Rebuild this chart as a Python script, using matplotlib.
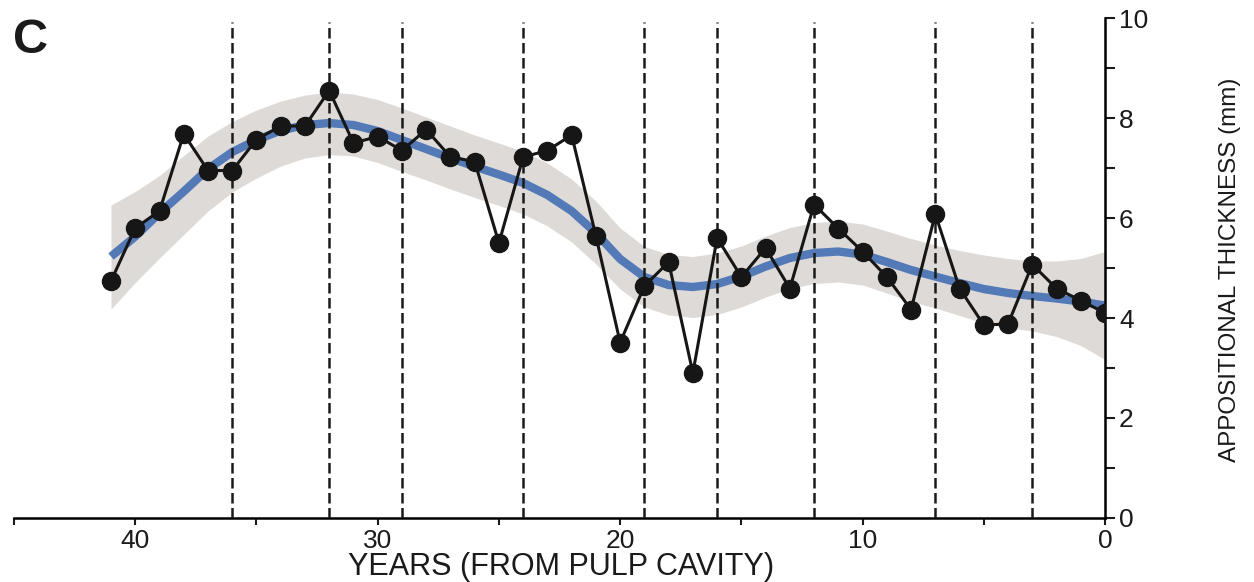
import matplotlib
matplotlib.use("Agg")
import matplotlib.pyplot as plt
from matplotlib.ticker import MultipleLocator

plt.rcParams['font.family'] = ['Liberation Sans', 'DejaVu Sans']

# years counted back from the pulp cavity
years = list(range(41, -1, -1))

# measured appositional thickness (mm), year 41 -> 0
thickness = [4.74, 5.8, 6.14, 7.68, 6.95, 6.95, 7.57, 7.84, 7.84, 8.55,
             7.5, 7.63, 7.35, 7.77, 7.22, 7.13, 5.5, 7.22, 7.35, 7.66,
             5.64, 3.51, 4.64, 5.12, 2.9, 5.6, 4.82, 5.4, 4.59, 6.27,
             5.79, 5.33, 4.82, 4.17, 6.08, 4.59, 3.86, 3.88, 5.07, 4.59,
             4.35, 4.1]

# smoothed trend and its confidence band
trend = [5.23, 5.63, 6.1, 6.53, 6.98, 7.32, 7.56, 7.75, 7.86, 7.9,
         7.86, 7.74, 7.56, 7.38, 7.2, 7.03, 6.87, 6.7, 6.46, 6.14,
         5.7, 5.18, 4.82, 4.66, 4.62, 4.68, 4.83, 5.03, 5.2, 5.3,
         5.33, 5.27, 5.12, 4.96, 4.83, 4.7, 4.58, 4.5, 4.44, 4.39,
         4.33, 4.25]
band_hi = [6.26, 6.53, 6.85, 7.25, 7.64, 7.93, 8.16, 8.34, 8.46, 8.52,
           8.48, 8.37, 8.2, 8.02, 7.84, 7.66, 7.5, 7.33, 7.1, 6.78,
           6.34, 5.8, 5.43, 5.27, 5.23, 5.3, 5.44, 5.64, 5.81, 5.91,
           5.94, 5.88, 5.74, 5.59, 5.46, 5.35, 5.26, 5.19, 5.14, 5.14,
           5.19, 5.33]
band_lo = [4.18, 4.71, 5.2, 5.67, 6.14, 6.52, 6.8, 7.04, 7.2, 7.27,
           7.24, 7.11, 6.93, 6.76, 6.58, 6.41, 6.25, 6.08, 5.84, 5.52,
           5.08, 4.58, 4.22, 4.06, 4.01, 4.07, 4.22, 4.42, 4.59, 4.69,
           4.72, 4.66, 4.5, 4.33, 4.2, 4.05, 3.9, 3.81, 3.74, 3.63,
           3.45, 3.17]

# years marked with dashed lines
marked_years = [36, 32, 29, 24, 19, 16, 12, 7, 3]

x_major = [0, 10, 20, 30, 40]
x_minor = [5, 15, 25, 35, 45]

fig = plt.figure(figsize=(12.54, 5.82), dpi=100)
ax = fig.add_axes([0.0112, 0.11, 0.8700, 0.859])

ax.fill_between(years, band_lo, band_hi, color='#dedad8', lw=0, zorder=1)
ax.plot(years, trend, color='#5379b6', lw=6, solid_capstyle='butt', zorder=2)

for yr in marked_years:
    ax.axvline(yr, ymin=0, ymax=0.993, color='#1a1a1a', lw=1.8,
               dashes=(4.2, 1.8), zorder=3)

ax.plot(years, thickness, color='#161616', lw=2.2, marker='o',
        markersize=13, markerfacecolor='#161616', markeredgecolor='#161616',
        zorder=4)

ax.set_xlim(45, 0)
ax.set_ylim(0, 10)

# only bottom and right axes
ax.spines['top'].set_visible(False)
ax.spines['left'].set_visible(False)
ax.spines['right'].set_linewidth(1.8)
ax.spines['bottom'].set_linewidth(1.8)
ax.yaxis.tick_right()

ax.set_xticks(x_major)
ax.set_xticks(x_minor, minor=True)
ax.yaxis.set_major_locator(MultipleLocator(2))
ax.yaxis.set_minor_locator(MultipleLocator(1))

ax.tick_params(axis='x', which='both', direction='out', length=5, width=1.5,
               labelsize=19, pad=3, colors='#1a1a1a')
ax.tick_params(axis='y', which='both', direction='out', length=7, width=1.5,
               labelsize=19, pad=3, colors='#1a1a1a')

fig.text(561 / 1254, 7 / 582, 'YEARS (FROM PULP CAVITY)', ha='center',
         va='baseline', fontsize=22, color='#1a1a1a')
fig.text(1230 / 1254, (582 - 270) / 582, 'APPOSITIONAL THICKNESS (mm)',
         rotation=90, ha='center', va='center', fontsize=17.5,
         color='#1a1a1a')
fig.text(13 / 1254, (582 - 53) / 582, 'C', ha='left', va='baseline',
         fontsize=35, fontweight='bold', color='#1a1a1a')

fig.savefig('out.png', dpi=100)
